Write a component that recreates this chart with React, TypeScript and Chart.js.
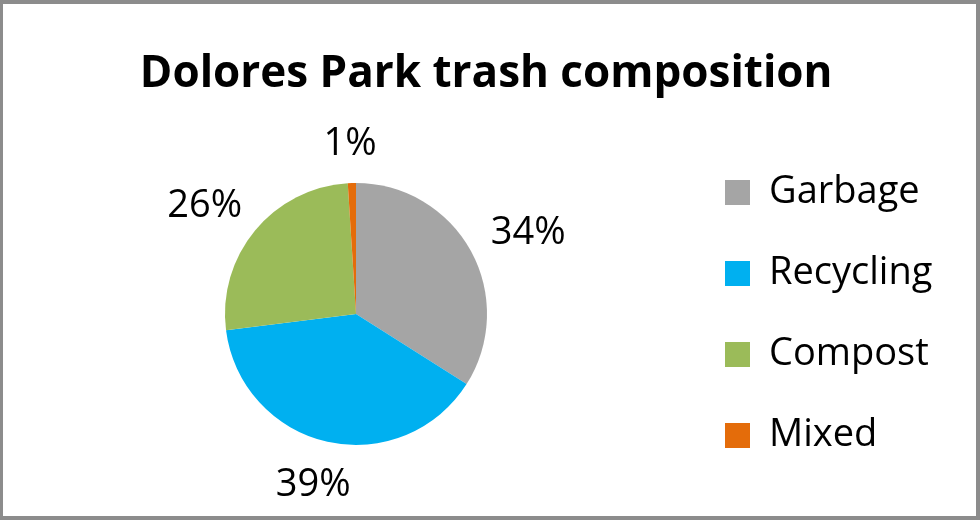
import React, { useEffect, useRef } from "react";
import { Chart, registerables } from "chart.js";

Chart.register(...registerables);

const TITLE = "Dolores Park trash composition";
const categories = ["Garbage", "Recycling", "Compost", "Mixed"];
const values = [34, 39, 26, 1];
const percentLabels = ["34%", "39%", "26%", "1%"];
const colors = ["#A5A5A5", "#00B0F0", "#9BBB59", "#E46C0A"];

const W = 980;
const H = 520;
const FONT = "'Open Sans', Lato, sans-serif";
const TITLE_SIZE = 44;
const LABEL_SIZE = 38;
const LEGEND_SIZE = 38;
const LEGEND_PAD = 43;
const BOX = 25;
const PIE_R = 131;
const PIE_CX = 356;
const LEGEND_BOX_X = 725;

const outsideLabels = {
  id: "outsideLabels",
  afterDatasetsDraw(chart: any) {
    const ctx = chart.ctx;
    const meta = chart.getDatasetMeta(0);
    ctx.save();
    ctx.font = `${LABEL_SIZE}px ${FONT}`;
    ctx.fillStyle = "#000";
    ctx.textAlign = "center";
    ctx.textBaseline = "alphabetic";
    const capH = LABEL_SIZE * 0.714;
    meta.data.forEach((arc: any, i: number) => {
      const p = arc.getProps(["x", "y", "startAngle", "endAngle", "outerRadius"], true);
      const mid = (p.startAngle + p.endAngle) / 2;
      const dx = Math.cos(mid);
      const dy = Math.sin(mid);
      const d = p.outerRadius + 28;
      const px = p.x + dx * d;
      const py = p.y + dy * d;
      const text = percentLabels[i];
      const w = ctx.measureText(text).width;
      const cx = px + (dx * w) / 2;
      const cy = py + (dy * capH) / 2;
      ctx.fillText(text, cx, cy + capH / 2);
    });
    ctx.restore();
  },
};

export default function App() {
  const ref = useRef<HTMLCanvasElement | null>(null);

  useEffect(() => {
    const canvas = ref.current;
    if (!canvas) return;
    const mctx = canvas.getContext("2d")!;
    mctx.font = `${LEGEND_SIZE}px ${FONT}`;
    const maxW = Math.max(...categories.map((c) => mctx.measureText(c).width));
    const legendWidth = LEGEND_PAD + BOX + LEGEND_SIZE / 2 + maxW + 10;
    const legendLeft = LEGEND_BOX_X - LEGEND_PAD;
    const padRight = W - (legendLeft + legendWidth);
    const padLeft = 2 * PIE_CX - legendLeft;

    const chart = new Chart(canvas, {
      type: "pie",
      data: {
        labels: categories,
        datasets: [
          {
            data: values,
            backgroundColor: colors,
            borderWidth: 0,
          },
        ],
      },
      options: {
        responsive: false,
        animation: false,
        devicePixelRatio: 1,
        radius: PIE_R,
        layout: { padding: { left: padLeft, right: padRight, top: 0, bottom: 0 } },
        plugins: {
          tooltip: { enabled: false },
          title: {
            display: true,
            text: TITLE,
            color: "#000",
            font: { family: FONT, size: TITLE_SIZE, weight: "bold" },
            padding: { top: 48, bottom: 7 },
          },
          legend: {
            display: true,
            position: "right",
            fullSize: false,
            labels: {
              color: "#000",
              font: { family: FONT, size: LEGEND_SIZE },
              boxWidth: BOX,
              boxHeight: BOX,
              padding: LEGEND_PAD,
            },
          },
        },
      } as any,
      plugins: [outsideLabels],
    });
    return () => chart.destroy();
  }, []);

  return (
    <div
      style={{
        position: "fixed",
        left: 0,
        top: 0,
        width: W,
        height: H,
        background: "#fff",
      }}
    >
      <canvas ref={ref} width={W} height={H} style={{ display: "block" }} />
      <div
        style={{
          position: "absolute",
          left: 0,
          top: 0,
          width: W,
          height: H,
          boxSizing: "border-box",
          borderStyle: "solid",
          borderColor: "#8c8c8c",
          borderWidth: "4px 4px 4px 3px",
          pointerEvents: "none",
        }}
      />
    </div>
  );
}
